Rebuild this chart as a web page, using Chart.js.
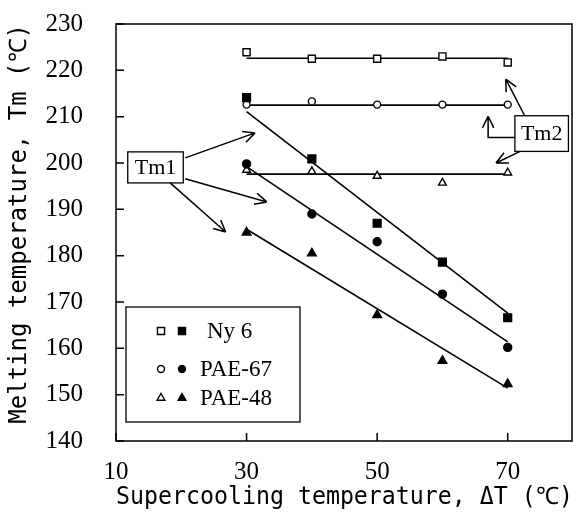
<!DOCTYPE html>
<html>
<head>
<meta charset="utf-8">
<script src="https://cdn.jsdelivr.net/npm/chart.js@4.4.1/dist/chart.umd.min.js"></script>
<style>
html, body { margin: 0; padding: 0; background: #fff; }
#wrap { width: 573px; height: 522px; }
</style>
</head>
<body>
<div id="wrap"><canvas id="tm-chart" width="573" height="522"></canvas></div>
<script>
"use strict";
// supercooling temperature (x) and tick labels
const supercooling = [30, 40, 50, 60, 70];
const xTicks = [10, 30, 50, 70];
const yTicks = [140, 150, 160, 170, 180, 190, 200, 210, 220, 230];

// melting temperatures
const ny6Tm2 = [223.9, 222.5, 222.5, 223.0, 221.7];
const ny6Tm1 = [214.1, 200.9, 187.0, 178.6, 166.6];
const pae67Tm2 = [212.6, 213.3, 212.6, 212.6, 212.6];
const pae67Tm1 = [199.8, 189.0, 183.0, 171.7, 160.2];
const pae48Tm2 = [198.5, 198.2, 197.2, 195.7, 197.9];
const pae48Tm1 = [185.0, 180.5, 167.2, 157.3, 152.3];

// fitted lines (end points at dT = 30 and 70)
const fitX = [30, 70];
const ny6Tm2Fit = [222.6, 222.6];
const ny6Tm1Fit = [211.1, 167.6];
const pae67Tm2Fit = [212.5, 212.5];
const pae67Tm1Fit = [199.2, 161.4];
const pae48Tm2Fit = [197.6, 197.6];
const pae48Tm1Fit = [185.7, 151.4];

const legendNames = ["Ny 6", "PAE-67", "PAE-48"];

const toPoints = (xs, ys) => xs.map((x, i) => ({ x: x, y: ys[i] }));

function markers(data, style, radius, filled) {
    return {
        data: toPoints(supercooling, data),
        pointStyle: style,
        pointRadius: radius,
        pointHoverRadius: radius,
        pointBackgroundColor: filled ? "#000" : "#fff",
        pointBorderColor: "#000",
        pointBorderWidth: 1.4,
        showLine: false,
        order: 0,
    };
}
function fitLine(data) {
    return {
        data: toPoints(fitX, data),
        showLine: true,
        borderColor: "#000",
        borderWidth: 1.6,
        pointRadius: 0,
        order: 1,
    };
}

// callout boxes and arrows, in data coordinates
const tm1Box = { x1: 11.8, x2: 20.3, y1: 202.4, y2: 195.7, text: "Tm1" };
const tm2Box = { x1: 71.1, x2: 79.3, y1: 210.2, y2: 202.5, text: "Tm2" };
const arrows = [
    [[20.6, 201.1], [31.3, 206.5]],
    [[20.6, 196.6], [33.1, 191.6]],
    [[18.3, 195.7], [26.8, 185.1]],
    [[72.6, 210.2], [69.7, 218.1]],
    [[71.1, 205.5], [67.0, 205.5], [67.0, 210.1]],
    [[71.9, 202.5], [68.2, 200.0]],
];

function drawMark(ctx, style, x, y, r, filled) {
    ctx.save();
    ctx.fillStyle = filled ? "#000" : "#fff";
    ctx.strokeStyle = "#000";
    ctx.lineWidth = 1.4;
    ctx.beginPath();
    if (style === "rect") {
        const s = r * Math.SQRT1_2;
        ctx.rect(x - s, y - s, 2 * s, 2 * s);
    } else if (style === "circle") {
        ctx.arc(x, y, r, 0, Math.PI * 2);
    } else {
        let a = 0;
        ctx.moveTo(x + Math.sin(a) * r, y - Math.cos(a) * r);
        a += Math.PI * 2 / 3;
        ctx.lineTo(x + Math.sin(a) * r, y - Math.cos(a) * r);
        a += Math.PI * 2 / 3;
        ctx.lineTo(x + Math.sin(a) * r, y - Math.cos(a) * r);
        ctx.closePath();
    }
    ctx.fill();
    ctx.stroke();
    ctx.restore();
}

const paperPlugin = {
    id: "paper",
    afterDraw(chart) {
        const ctx = chart.ctx;
        const area = chart.chartArea;
        const xs = chart.scales.x;
        const ys = chart.scales.y;
        ctx.save();
        ctx.strokeStyle = "#000";
        ctx.lineWidth = 1.5;
        // frame
        ctx.strokeRect(area.left, area.top, area.right - area.left - 1, area.bottom - area.top);
        // inward ticks
        ctx.beginPath();
        for (const v of xTicks) {
            const px = xs.getPixelForValue(v);
            ctx.moveTo(px, area.bottom);
            ctx.lineTo(px, area.bottom - 8);
        }
        for (const v of yTicks) {
            const py = ys.getPixelForValue(v);
            ctx.moveTo(area.left, py);
            ctx.lineTo(area.left + 8, py);
        }
        ctx.stroke();

        // legend box
        const lx = area.left + 10;
        const ly = 307;
        ctx.lineWidth = 1.3;
        ctx.fillStyle = "#fff";
        ctx.fillRect(lx, ly, 174, 115);
        ctx.strokeRect(lx, ly, 174, 115);
        const styles = [["rect", 5], ["circle", 3.5], ["triangle", 4.5]];
        const rows = [331, 369, 398];
        const textX = [207, 200, 200];
        ctx.font = "23px 'Liberation Serif'";
        ctx.textBaseline = "middle";
        ctx.textAlign = "left";
        rows.forEach((ry, i) => {
            drawMark(ctx, styles[i][0], lx + 35, ry, styles[i][1], false);
            drawMark(ctx, styles[i][0], lx + 56, ry, styles[i][1], true);
            ctx.fillStyle = "#000";
            ctx.fillText(legendNames[i], textX[i], ry + 1);
        });

        // callout boxes
        ctx.font = "22px 'Liberation Serif'";
        ctx.textAlign = "center";
        for (const b of [tm1Box, tm2Box]) {
            const x1 = xs.getPixelForValue(b.x1), x2 = xs.getPixelForValue(b.x2);
            const y1 = ys.getPixelForValue(b.y1), y2 = ys.getPixelForValue(b.y2);
            ctx.fillStyle = "#fff";
            ctx.fillRect(x1, y1, x2 - x1, y2 - y1);
            ctx.strokeRect(x1, y1, x2 - x1, y2 - y1);
            ctx.fillStyle = "#000";
            ctx.fillText(b.text, (x1 + x2) / 2, (y1 + y2) / 2 + 1);
        }

        // arrows with open heads
        ctx.lineWidth = 1.5;
        for (const path of arrows) {
            const pts = path.map(p => [xs.getPixelForValue(p[0]), ys.getPixelForValue(p[1])]);
            ctx.beginPath();
            ctx.moveTo(pts[0][0], pts[0][1]);
            for (let i = 1; i < pts.length; i++) ctx.lineTo(pts[i][0], pts[i][1]);
            const end = pts[pts.length - 1];
            const prev = pts[pts.length - 2];
            const ang = Math.atan2(end[1] - prev[1], end[0] - prev[0]);
            for (const d of [0.45, -0.45]) {
                ctx.moveTo(end[0], end[1]);
                ctx.lineTo(end[0] - 13 * Math.cos(ang + d), end[1] - 13 * Math.sin(ang + d));
            }
            ctx.stroke();
        }
        ctx.restore();
    },
};

const noPad = s => { s.paddingLeft = 0; s.paddingRight = 0; s.paddingTop = 0; s.paddingBottom = 0; };

new Chart("tm-chart", {
    type: "scatter",
    data: {
        datasets: [
            markers(ny6Tm2, "rect", 5, false),
            markers(ny6Tm1, "rect", 5.5, true),
            markers(pae67Tm2, "circle", 3.5, false),
            markers(pae67Tm1, "circle", 4, true),
            markers(pae48Tm2, "triangle", 4.5, false),
            markers(pae48Tm1, "triangle", 5, true),
            fitLine(ny6Tm2Fit),
            fitLine(ny6Tm1Fit),
            fitLine(pae67Tm2Fit),
            fitLine(pae67Tm1Fit),
            fitLine(pae48Tm2Fit),
            fitLine(pae48Tm1Fit),
        ],
    },
    options: {
        responsive: false,
        animation: false,
        layout: { autoPadding: false, padding: { top: 24, right: 0, bottom: 0, left: 0 } },
        plugins: { legend: { display: false }, tooltip: { enabled: false } },
        scales: {
            x: {
                type: "linear",
                min: 10,
                max: 80,
                afterBuildTicks: s => { s.ticks = xTicks.map(v => ({ value: v })); },
                afterFit: s => { s.height = 81; noPad(s); },
                grid: { display: false, drawTicks: false },
                border: { display: false },
                ticks: {
                    color: "#000",
                    padding: 16,
                    maxRotation: 0,
                    font: { family: "'Liberation Serif'", size: 25 },
                },
                title: {
                    display: true,
                    text: "Supercooling temperature, \u0394T (\u2103)",
                    color: "#000",
                    font: { family: "'DejaVu Sans Mono'", size: 24 },
                    padding: { top: 0, bottom: 10 },
                },
            },
            y: {
                type: "linear",
                min: 140,
                max: 230,
                afterBuildTicks: s => { s.ticks = yTicks.map(v => ({ value: v })); },
                afterFit: s => { s.width = 116; noPad(s); },
                grid: { display: false, drawTicks: false },
                border: { display: false },
                ticks: {
                    color: "#000",
                    padding: 33,
                    font: { family: "'Liberation Serif'", size: 25 },
                },
                title: {
                    display: true,
                    text: "Melting temperature, Tm (\u2103)",
                    align: "end",
                    color: "#000",
                    font: { family: "'DejaVu Sans Mono'", size: 24 },
                    padding: { top: 5, bottom: 0 },
                },
            },
        },
    },
    plugins: [paperPlugin],
});
</script>
</body>
</html>
